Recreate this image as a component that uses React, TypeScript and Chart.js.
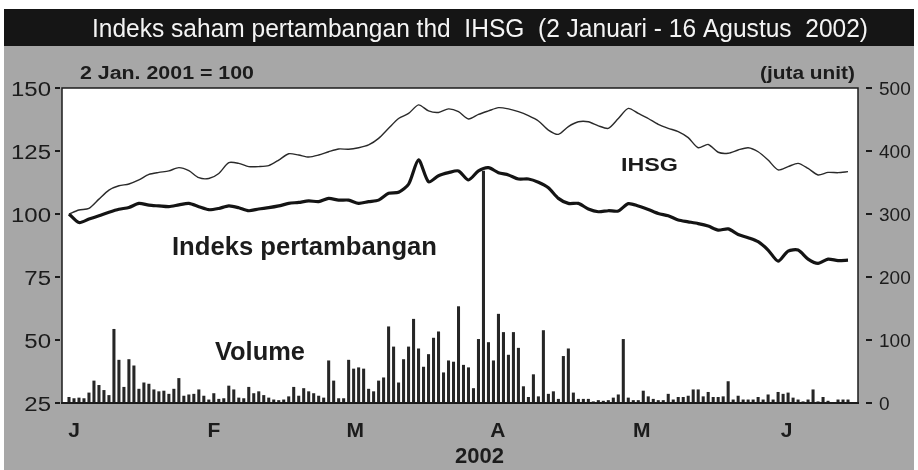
import React, { useEffect, useRef } from 'react';
import { Chart, registerables } from 'chart.js';

Chart.register(...registerables);

// ---------- text ----------
const TITLE = 'Indeks saham pertambangan thd  IHSG  (2 Januari - 16 Agustus  2002)';
const BASE_NOTE = '2 Jan. 2001 = 100';
const UNIT_NOTE = '(juta unit)';
const YEAR_LABEL = '2002';
const IHSG_LABEL = 'IHSG';
const MINING_LABEL = 'Indeks pertambangan';
const VOLUME_LABEL = 'Volume';

// ---------- axes ----------
const monthLabels = ['J', 'F', 'M', 'A', 'M', 'J'];
const monthTickIdx = [1, 29, 57.3, 85.9, 114.7, 143.7]; // trading-day index of each month label
const leftTicks = [25, 50, 75, 100, 125, 150];
const rightTicks = [0, 100, 200, 300, 400, 500];

// ---------- data ----------
// index values are read every 2nd trading day
const LINE_STEP = 2;

const ihsg = [
  100, 101.6, 102.2, 105.9, 109.5, 111.2, 111.9, 113.5, 115.7, 116.5,
  117.1, 118.4, 117.2, 114.4, 114.1, 116.1, 120.4, 120.1, 118.8, 118.8,
  119.2, 121.4, 123.9, 123.4, 122.6, 123.4, 124.7, 125.8, 125.7, 126.3,
  127.4, 130.0, 134.0, 137.9, 139.9, 143.3, 140.9, 140.3, 141.7, 140.6,
  137.7, 139.5, 140.9, 142.2, 141.7, 140.6, 139.0, 136.9, 133.3, 131.6,
  134.7, 136.6, 136.6, 135.0, 134.0, 137.9, 141.9, 139.9, 137.9, 135.6,
  134.0, 132.7, 130.3, 126.3, 127.6, 124.5, 124.1, 125.4, 126.3, 124.7,
  121.4, 117.5, 118.8, 120.1, 118.1, 115.5, 116.5, 116.4, 116.8,
];

const pertambangan = [
  100, 96.6, 98.0, 99.3, 100.7, 101.9, 102.6, 104.2, 103.5, 103.2,
  102.9, 103.6, 104.2, 102.9, 101.7, 102.2, 103.2, 102.5, 101.3, 102.0,
  102.5, 103.2, 104.2, 104.6, 105.2, 104.9, 106.2, 105.5, 105.5, 104.2,
  104.9, 105.5, 108.2, 108.6, 111.8, 121.5, 112.8, 115.2, 116.4, 117.1,
  113.5, 117.1, 118.4, 116.4, 115.5, 113.9, 113.9, 112.6, 110.4, 106.2,
  104.2, 104.2, 102.0, 100.9, 101.3, 101.2, 104.1, 103.2, 101.8, 100.2,
  99.3, 97.6, 96.9, 96.2, 95.2, 93.6, 94.1, 91.9, 90.6, 89.0,
  85.7, 81.3, 85.3, 85.7, 82.1, 80.4, 82.1, 81.5, 81.7,
];

// volume, million units, every trading day
const volume = [
  9, 7, 8, 7, 16, 35, 28, 20, 12, 117,
  68, 25, 69, 59, 22, 32, 30, 21, 18, 19,
  14, 22, 39, 11, 13, 14, 21, 11, 5, 15,
  6, 7, 27, 21, 8, 7, 25, 15, 18, 12,
  8, 5, 4, 5, 10, 25, 11, 23, 18, 15,
  11, 8, 67, 35, 7, 7, 68, 54, 56, 54,
  22, 18, 35, 40, 121, 89, 32, 69, 89, 133,
  86, 57, 77, 103, 113, 48, 67, 65, 153, 60,
  56, 23, 101, 368, 96, 67, 141, 112, 76, 112,
  87, 26, 9, 45, 10, 115, 14, 18, 6, 74,
  86, 16, 6, 6, 6, 2, 4, 3, 4, 8,
  13, 101, 8, 4, 4, 19, 10, 6, 4, 4,
  14, 5, 9, 9, 11, 21, 21, 10, 17, 9,
  9, 10, 34, 5, 11, 5, 5, 5, 9, 5,
  13, 5, 17, 14, 16, 8, 5, 2, 5, 21,
  2, 9, 3, 0, 5, 5, 5,
];

// ---------- style ----------
const W = 918;
const H = 470;
const FONT = '"Liberation Sans", Arial, Helvetica, sans-serif';
const GREY = '#a7a7a7';
const INK = '#1c1c1c';

function drawFit(
  ctx: CanvasRenderingContext2D,
  text: string,
  x: number,
  baseline: number,
  font: string,
  width: number,
  color: string,
  align: 'left' | 'center' | 'right' = 'left'
) {
  ctx.save();
  ctx.font = font;
  const w = ctx.measureText(text).width || 1;
  const sx = width / w;
  let left = x;
  if (align === 'center') left = x - width / 2;
  if (align === 'right') left = x - width;
  ctx.fillStyle = color;
  ctx.textAlign = 'left';
  ctx.textBaseline = 'alphabetic';
  ctx.translate(left, baseline);
  ctx.scale(sx, 1);
  ctx.fillText(text, 0, 0);
  ctx.restore();
}

function drawScaled(
  ctx: CanvasRenderingContext2D,
  text: string,
  x: number,
  baseline: number,
  font: string,
  sx: number,
  color: string,
  align: 'left' | 'center' | 'right' = 'left'
) {
  ctx.save();
  ctx.font = font;
  const w = ctx.measureText(text).width * sx;
  drawFit(ctx, text, x, baseline, font, w, color, align);
  ctx.restore();
}

const decorPlugin = {
  id: 'decor',
  beforeDraw(chart: any) {
    const { ctx, chartArea: a } = chart;
    ctx.save();
    ctx.fillStyle = '#ffffff';
    ctx.fillRect(0, 0, W, H);
    ctx.fillStyle = GREY;
    ctx.fillRect(4, 45, W - 8, H - 45);
    ctx.fillStyle = '#151515';
    ctx.fillRect(4, 9, W - 8, 37);
    drawFit(ctx, TITLE, 92, 37, `26px ${FONT}`, 776, '#f4f4f4');
    ctx.fillStyle = '#ffffff';
    ctx.fillRect(a.left, a.top, a.right - a.left, a.bottom - a.top);
    ctx.restore();
  },
  afterDraw(chart: any) {
    const { ctx, chartArea: a, scales } = chart;
    const yL = scales.y;
    const yR = scales.y1;
    const xS = scales.x;
    ctx.save();
    // frame
    ctx.strokeStyle = INK;
    ctx.lineWidth = 1.5;
    ctx.beginPath();
    ctx.moveTo(a.left, a.bottom);
    ctx.lineTo(a.left, a.top);
    ctx.lineTo(a.right, a.top);
    ctx.lineTo(a.right, a.bottom);
    ctx.stroke();
    ctx.lineWidth = 2.2;
    ctx.beginPath();
    ctx.moveTo(a.left - 1, a.bottom);
    ctx.lineTo(a.right + 1, a.bottom);
    ctx.stroke();

    // left ticks
    ctx.lineWidth = 2;
    leftTicks.forEach((v) => {
      const py = yL.getPixelForValue(v);
      ctx.beginPath();
      ctx.moveTo(55, py);
      ctx.lineTo(60, py);
      ctx.stroke();
      drawScaled(ctx, String(v), 51, py + 7.5, `20px ${FONT}`, 1.2, INK, 'right');
    });
    // right ticks
    rightTicks.forEach((v) => {
      const py = yR.getPixelForValue(v);
      ctx.beginPath();
      ctx.moveTo(866, py);
      ctx.lineTo(872, py);
      ctx.stroke();
      drawScaled(ctx, String(v), 879, py + 7, `19px ${FONT}`, 1.0, INK, 'left');
    });
    // month labels
    monthLabels.forEach((m, i) => {
      const px = xS.getPixelForValue(monthTickIdx[i]);
      drawScaled(ctx, m, px, 437, `bold 21px ${FONT}`, 1.0, INK, 'center');
    });
    drawFit(ctx, YEAR_LABEL, 455, 463, `bold 22px ${FONT}`, 49, INK);

    // notes and series labels
    drawFit(ctx, BASE_NOTE, 80, 79, `bold 18px ${FONT}`, 174, INK);
    drawFit(ctx, UNIT_NOTE, 760, 79, `bold 18px ${FONT}`, 95, INK);
    drawFit(ctx, IHSG_LABEL, 621, 171, `bold 19px ${FONT}`, 57, INK);
    drawFit(ctx, MINING_LABEL, 172, 255, `bold 25px ${FONT}`, 265, INK);
    drawFit(ctx, VOLUME_LABEL, 215, 360, `bold 25px ${FONT}`, 90, INK);
    ctx.restore();
  },
};

export default function App() {
  const canvasRef = useRef<HTMLCanvasElement | null>(null);

  useEffect(() => {
    const canvas = canvasRef.current;
    if (!canvas) return;
    const chart = new Chart(canvas, {
      type: 'bar',
      data: {
        datasets: [
          {
            type: 'line',
            label: 'IHSG',
            data: ihsg.map((v, i) => ({ x: i * LINE_STEP, y: v })),
            yAxisID: 'y',
            borderColor: '#2a2a2a',
            borderWidth: 1.4,
            pointRadius: 0,
            tension: 0.25,
            fill: false,
            order: 1,
          } as any,
          {
            type: 'line',
            label: 'Indeks pertambangan',
            data: pertambangan.map((v, i) => ({ x: i * LINE_STEP, y: v })),
            yAxisID: 'y',
            borderColor: '#141414',
            borderWidth: 3.2,
            pointRadius: 0,
            tension: 0.25,
            fill: false,
            order: 2,
          } as any,
          {
            type: 'bar',
            label: 'Volume',
            data: volume.map((v, i) => ({ x: i, y: v })),
            yAxisID: 'y1',
            backgroundColor: '#262626',
            barThickness: 2.4,
            order: 3,
          } as any,
        ],
      },
      options: {
        responsive: false,
        animation: false,
        devicePixelRatio: 1,
        layout: { padding: { top: 88, left: 0, right: 0, bottom: 0 } },
        plugins: {
          legend: { display: false },
          tooltip: { enabled: false },
          title: { display: false },
        },
        scales: {
          x: {
            type: 'linear',
            min: -1.4,
            max: 158,
            offset: false,
            ticks: { display: false },
            grid: { display: false, drawTicks: false },
            border: { display: false },
            afterFit: (s: any) => {
              s.height = 67;
            },
          },
          y: {
            position: 'left',
            min: 25,
            max: 150,
            ticks: { display: false },
            grid: { display: false, drawTicks: false },
            border: { display: false },
            afterFit: (s: any) => {
              s.width = 62;
            },
          },
          y1: {
            position: 'right',
            min: 0,
            max: 500,
            ticks: { display: false },
            grid: { display: false, drawTicks: false },
            border: { display: false },
            afterFit: (s: any) => {
              s.width = 60;
            },
          },
        },
      } as any,
      plugins: [decorPlugin],
    });
    return () => chart.destroy();
  }, []);

  return (
    <div style={{ position: 'fixed', left: 0, top: 0, width: W, height: H, background: '#fff' }}>
      <canvas ref={canvasRef} width={W} height={H} style={{ display: 'block', width: W, height: H }} />
    </div>
  );
}
